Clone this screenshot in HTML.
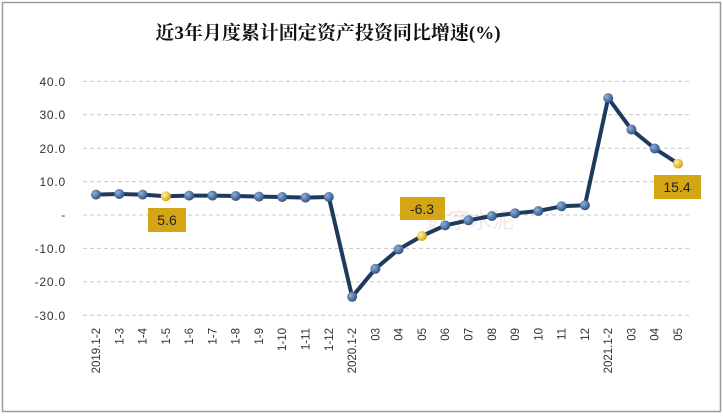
<!DOCTYPE html>
<html><head><meta charset="utf-8"><style>
html,body{margin:0;padding:0;background:#fff}
svg text{font-family:"Liberation Sans","Noto Sans CJK SC",sans-serif}
</style></head><body>
<svg width="723" height="415" viewBox="0 0 723 415" xmlns="http://www.w3.org/2000/svg">
<rect x="2.5" y="2.5" width="718" height="409" fill="#fff" stroke="#9a9a9a" stroke-width="1.5"/>
<text x="328" y="39" text-anchor="middle" font-size="19" font-weight="bold" fill="#111" style="font-family:'Liberation Serif','Noto Serif CJK SC',serif">近3年月度累计固定资产投资同比增速(%)</text>
<g stroke="#c8c8c8" stroke-dasharray="4,3" stroke-width="1">
<line x1="83" y1="81.4" x2="690" y2="81.4"/><line x1="83" y1="114.8" x2="690" y2="114.8"/>
<line x1="83" y1="148.2" x2="690" y2="148.2"/><line x1="83" y1="181.6" x2="690" y2="181.6"/>
<line x1="83" y1="215" x2="690" y2="215"/><line x1="83" y1="248.4" x2="690" y2="248.4"/>
<line x1="83" y1="281.8" x2="690" y2="281.8"/><line x1="83" y1="315.2" x2="690" y2="315.2"/>
</g>
<g font-size="12" fill="#333" text-anchor="end" letter-spacing="0.8">
<text x="66" y="86">40.0</text><text x="66" y="119">30.0</text><text x="66" y="153">20.0</text>
<text x="66" y="186">10.0</text><text x="66" y="219">-</text><text x="66" y="253">-10.0</text>
<text x="66" y="286">-20.0</text><text x="66" y="320">-30.0</text>
</g>
<text x="470" y="228" text-anchor="middle" font-size="22" fill="#f0d6d6" opacity="0.6">数字水泥</text>
<polyline fill="none" stroke="#1f3a5f" stroke-width="4" stroke-linejoin="round" points="96,194.6 119.3,194 142.6,194.6 165.8,196.3 189.1,195.6 212.4,195.6 235.7,196 259,196.6 282.2,197 305.5,197.6 328.8,197 352.1,296.8 375.4,268.8 398.6,249.4 421.9,236 445.2,225.4 468.5,220.3 491.8,216 515,213.3 538.3,211 561.6,206.3 584.9,205.3 608.2,98.1 631.4,129.5 654.7,148.5 678,163.6"/>
<defs><radialGradient id="b" cx="35%" cy="35%" r="70%"><stop offset="0" stop-color="#8fb0d8"/><stop offset="1" stop-color="#2a4f80"/></radialGradient>
<radialGradient id="y" cx="35%" cy="35%" r="70%"><stop offset="0" stop-color="#fff3a0"/><stop offset="1" stop-color="#d4a010"/></radialGradient></defs>
<g fill="url(#b)">
<circle cx="96" cy="194.6" r="5"/><circle cx="119.3" cy="194" r="5"/><circle cx="142.6" cy="194.6" r="5"/>
<circle cx="189.1" cy="195.6" r="5"/><circle cx="212.4" cy="195.6" r="5"/><circle cx="235.7" cy="196" r="5"/><circle cx="259" cy="196.6" r="5"/>
<circle cx="282.2" cy="197" r="5"/><circle cx="305.5" cy="197.6" r="5"/><circle cx="328.8" cy="197" r="5"/><circle cx="352.1" cy="296.8" r="5"/>
<circle cx="375.4" cy="268.8" r="5"/><circle cx="398.6" cy="249.4" r="5"/><circle cx="445.2" cy="225.4" r="5"/>
<circle cx="468.5" cy="220.3" r="5"/><circle cx="491.8" cy="216" r="5"/><circle cx="515" cy="213.3" r="5"/><circle cx="538.3" cy="211" r="5"/>
<circle cx="561.6" cy="206.3" r="5"/><circle cx="584.9" cy="205.3" r="5"/><circle cx="608.2" cy="98.1" r="5"/><circle cx="631.4" cy="129.5" r="5"/>
<circle cx="654.7" cy="148.5" r="5"/>
</g>
<g fill="url(#y)"><circle cx="165.8" cy="196.3" r="5"/><circle cx="421.9" cy="236" r="5"/><circle cx="678" cy="163.6" r="5"/></g>
<g font-size="14" fill="#222">
<rect x="148" y="208" width="38" height="24" fill="#d4a514"/><text x="167" y="225" text-anchor="middle">5.6</text>
<rect x="400" y="197" width="45" height="23" fill="#d4a514"/><text x="422" y="214" text-anchor="middle">-6.3</text>
<rect x="654" y="175" width="47" height="24" fill="#d4a514"/><text x="677" y="192" text-anchor="middle">15.4</text>
</g>
<g font-size="11.5" fill="#333" text-anchor="end">
<text transform="translate(100,328) rotate(-90)">2019.1-2</text><text transform="translate(123.3,328) rotate(-90)">1-3</text>
<text transform="translate(146.6,328) rotate(-90)">1-4</text><text transform="translate(169.8,328) rotate(-90)">1-5</text>
<text transform="translate(193.1,328) rotate(-90)">1-6</text><text transform="translate(216.4,328) rotate(-90)">1-7</text>
<text transform="translate(239.7,328) rotate(-90)">1-8</text><text transform="translate(263,328) rotate(-90)">1-9</text>
<text transform="translate(286.2,328) rotate(-90)">1-10</text><text transform="translate(309.5,328) rotate(-90)">1-11</text>
<text transform="translate(332.8,328) rotate(-90)">1-12</text><text transform="translate(356.1,328) rotate(-90)">2020.1-2</text>
<text transform="translate(379.4,328) rotate(-90)">03</text><text transform="translate(402.6,328) rotate(-90)">04</text>
<text transform="translate(425.9,328) rotate(-90)">05</text><text transform="translate(449.2,328) rotate(-90)">06</text>
<text transform="translate(472.5,328) rotate(-90)">07</text><text transform="translate(495.8,328) rotate(-90)">08</text>
<text transform="translate(519,328) rotate(-90)">09</text><text transform="translate(542.3,328) rotate(-90)">10</text>
<text transform="translate(565.6,328) rotate(-90)">11</text><text transform="translate(588.9,328) rotate(-90)">12</text>
<text transform="translate(612.2,328) rotate(-90)">2021.1-2</text><text transform="translate(635.4,328) rotate(-90)">03</text>
<text transform="translate(658.7,328) rotate(-90)">04</text><text transform="translate(682,328) rotate(-90)">05</text>
</g>
</svg>
</body></html>
